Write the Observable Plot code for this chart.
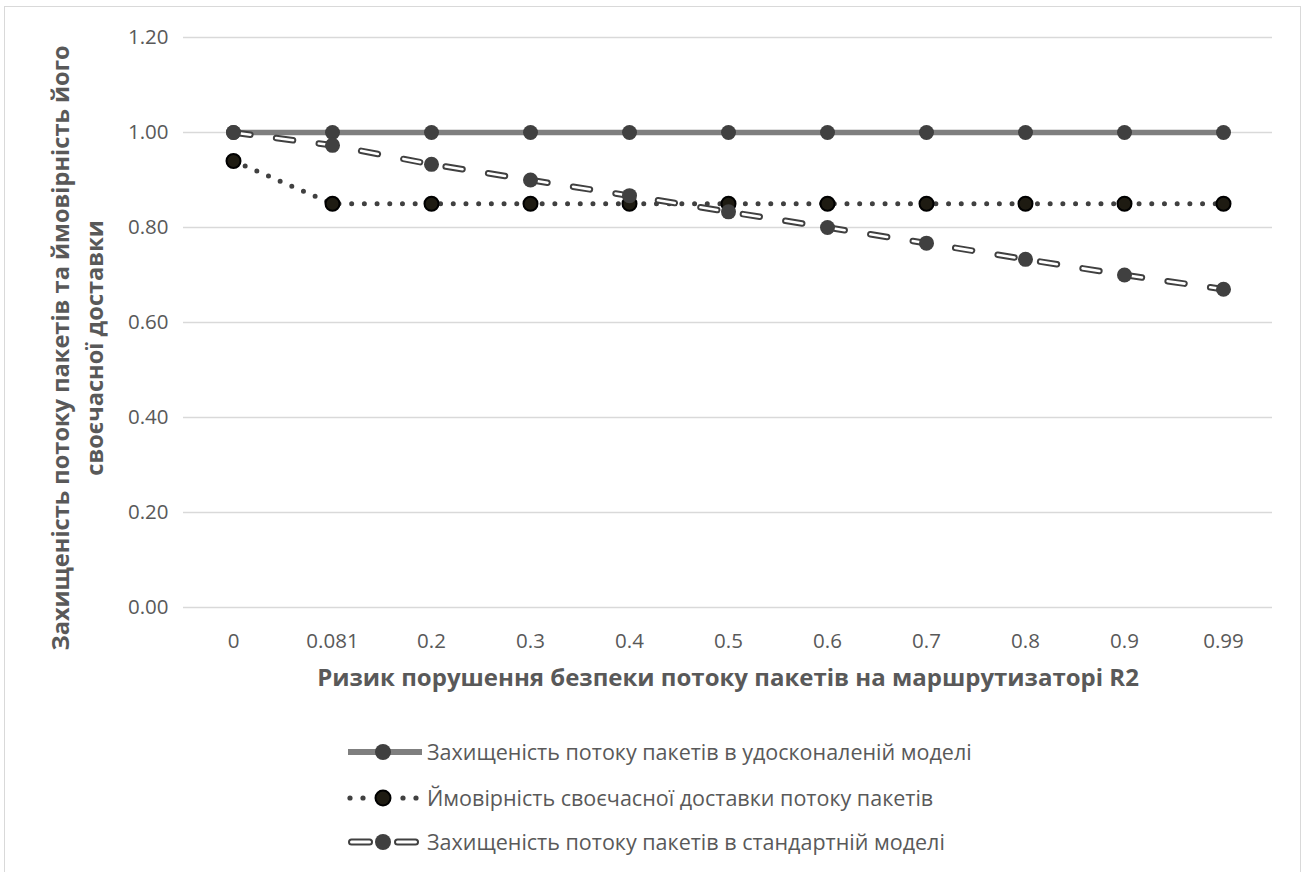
<!DOCTYPE html>
<html>
<head>
<meta charset="utf-8">
<script src="https://cdn.jsdelivr.net/npm/d3@7"></script>
<script src="https://cdn.jsdelivr.net/npm/@observablehq/plot@0.6"></script>
<style>
  html, body { margin: 0; padding: 0; background: #fff; }
  #page { position: relative; width: 1304px; height: 872px; overflow: hidden; font-family: "Open Sans", sans-serif; }
  #frame { position: absolute; left: 4px; top: 6px; width: 1297px; height: 900px; border: 1.5px solid #d9d9d9; box-sizing: border-box; }
  #chart { position: absolute; left: 0; top: 0; }
  #legend { position: absolute; left: 0; top: 0; width: 1304px; }
  .row { position: absolute; left: 345px; height: 30px; display: flex; align-items: center; }
  .row svg { display: block; }
  .row span { font-size: 21.5px; color: #595959; margin-left: 2px; white-space: nowrap; line-height: 30px; }
</style>
</head>
<body>
<div id="page">
  <div id="frame"></div>
  <div id="chart"></div>
  <div id="legend"></div>
</div>
<script>
// ---- data ----
const xLabels = ["0", "0.081", "0.2", "0.3", "0.4", "0.5", "0.6", "0.7", "0.8", "0.9", "0.99"];
const improvedValues = [1.00, 1.00, 1.00, 1.00, 1.00, 1.00, 1.00, 1.00, 1.00, 1.00, 1.00];
const deliveryValues = [0.94, 0.85, 0.85, 0.85, 0.85, 0.85, 0.85, 0.85, 0.85, 0.85, 0.85];
const standardValues = [1.00, 0.973, 0.933, 0.90, 0.867, 0.833, 0.80, 0.767, 0.733, 0.70, 0.67];
const yTicks = [0, 0.2, 0.4, 0.6, 0.8, 1.0, 1.2];
const seriesNames = [
  "Захищеність потоку пакетів в удосконаленій моделі",
  "Ймовірність своєчасної доставки потоку пакетів",
  "Захищеність потоку пакетів в стандартній моделі"
];
const xTitle = "Ризик порушення безпеки потоку пакетів на маршрутизаторі R2";
const yTitleLines = ["Захищеність потоку пакетів та ймовірність його", "своєчасної доставки"];

const rows = vals => xLabels.map((x, i) => ({x, y: vals[i]}));
const improved = rows(improvedValues);
const delivery = rows(deliveryValues);
const standard = rows(standardValues);

const plot = Plot.plot({
  width: 1304,
  height: 700,
  marginLeft: 183,
  marginRight: 32,
  marginTop: 37,
  marginBottom: 93,
  style: {fontFamily: "Open Sans", fontSize: "20.5px", color: "#595959", background: "transparent"},
  x: {type: "point", domain: xLabels, padding: 0.5, label: null},
  y: {domain: [0, 1.2], label: null},
  marks: [
    Plot.gridY(yTicks, {stroke: "#d9d9d9", strokeOpacity: 1, strokeWidth: 1.3}),
    Plot.axisY(yTicks, {tickSize: 0, tickPadding: 15, tickFormat: d3.format(".2f"), fill: "#595959", label: null}),
    Plot.axisX({tickSize: 0, tickPadding: 26, fill: "#595959", label: null}),
    Plot.line(improved, {x: "x", y: "y", stroke: "#7f7f7f", strokeWidth: 5.5}),
    Plot.dot(improved, {x: "x", y: "y", r: 7.5, fill: "#404040", stroke: "none"}),
    Plot.line(delivery, {x: "x", y: "y", stroke: "#404040", strokeWidth: 5, strokeDasharray: "0,12.7", strokeLinecap: "round"}),
    Plot.dot(delivery, {x: "x", y: "y", r: 7, fill: "#1e1b12", stroke: "#000", strokeWidth: 2}),
    Plot.line(standard, {x: "x", y: "y", stroke: "#404040", strokeWidth: 6.5, strokeDasharray: "17,26", strokeLinecap: "round"}),
    Plot.line(standard, {x: "x", y: "y", stroke: "#ffffff", strokeWidth: 2.6, strokeDasharray: "17,26", strokeLinecap: "round"}),
    Plot.dot(standard, {x: "x", y: "y", r: 7.5, fill: "#404040", stroke: "none"})
  ]
});
document.getElementById("chart").appendChild(plot);

// axis titles
const svg = d3.select(plot);
svg.append("text")
  .attr("x", 728).attr("y", 686)
  .attr("text-anchor", "middle")
  .attr("font-family", "Open Sans").attr("font-weight", "bold").attr("font-size", 24)
  .attr("fill", "#595959")
  .text(xTitle);
const yt = [[69, 348], [103, 348]];
yTitleLines.forEach((t, i) => {
  svg.append("text")
    .attr("transform", `translate(${yt[i][0]},${yt[i][1]}) rotate(-90)`)
    .attr("text-anchor", "middle")
    .attr("font-family", "Open Sans").attr("font-weight", "bold").attr("font-size", 23.6)
    .attr("fill", "#595959")
    .text(t);
});

// legend
const legend = d3.select("#legend");
const rowY = [752, 798, 842];
const seg = (s, x1, x2, stroke, w) =>
  s.append("line").attr("x1", x1).attr("x2", x2).attr("y1", 15).attr("y2", 15)
    .attr("stroke", stroke).attr("stroke-width", w).attr("stroke-linecap", "round");
seriesNames.forEach((name, i) => {
  const row = legend.append("div").attr("class", "row").style("top", (rowY[i] - 15) + "px");
  const s = row.append("svg").attr("width", 80).attr("height", 30);
  // svg x 0 = page x 345
  if (i === 0) {
    s.append("line").attr("x1", 3).attr("x2", 77).attr("y1", 15).attr("y2", 15).attr("stroke", "#7f7f7f").attr("stroke-width", 6);
    s.append("circle").attr("cx", 38).attr("cy", 15).attr("r", 8).attr("fill", "#404040");
  } else if (i === 1) {
    [5, 18, 58, 71].forEach(cx => s.append("circle").attr("cx", cx).attr("cy", 15).attr("r", 2.6).attr("fill", "#404040"));
    s.append("circle").attr("cx", 38).attr("cy", 15).attr("r", 7.5).attr("fill", "#1e1b12").attr("stroke", "#000").attr("stroke-width", 2);
  } else {
    seg(s, 6.5, 24.5, "#404040", 7);
    seg(s, 6.5, 24.5, "#fff", 3);
    seg(s, 52.5, 70.5, "#404040", 7);
    seg(s, 52.5, 70.5, "#fff", 3);
    s.append("circle").attr("cx", 38).attr("cy", 15).attr("r", 8).attr("fill", "#404040");
  }
  row.append("span").text(name);
});
</script>
</body>
</html>
